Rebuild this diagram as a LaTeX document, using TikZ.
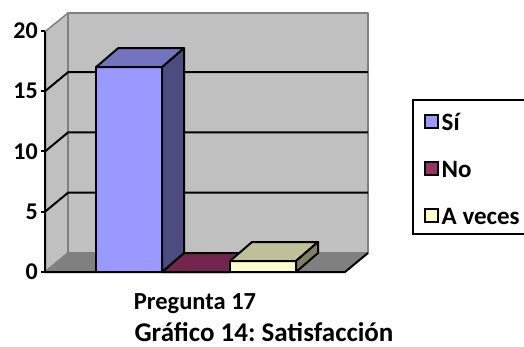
\documentclass[tikz,border=0pt]{standalone}
\usepackage{fontspec}
\setmainfont{Carlito}
\usetikzlibrary{positioning}
\frenchspacing

\definecolor{wallgray}{HTML}{C0C0C0}
\definecolor{floorgray}{HTML}{808080}
\definecolor{sifront}{HTML}{9999FF}
\definecolor{sitop}{HTML}{7373BF}
\definecolor{siside}{HTML}{4C4C80}
\definecolor{nofront}{HTML}{993366}
\definecolor{notop}{HTML}{73264D}
\definecolor{avfront}{HTML}{FFFFCC}
\definecolor{avtop}{HTML}{BFBF99}
\definecolor{avside}{HTML}{808066}

\begin{document}
\begin{tikzpicture}[x=1pt,y=-1pt,
	wall/.style={fill=wallgray,draw=floorgray,line width=1.5pt,line join=round},
	gridline/.style={line width=2pt},
	face/.style={draw=black,line width=2pt,line join=round},
	lbl/.style={font=\bfseries\fontsize{25}{30}\selectfont,inner sep=0pt},
	ticklbl/.style={font=\bfseries\fontsize{24}{28}\selectfont,inner sep=0pt},
	swatch/.style={draw=black,line width=2pt,minimum size=13pt,inner sep=0pt}]
	\useasboundingbox (0,0) rectangle (524,347);
	% walls and floor
	\draw[wall] (45,272) -- (45,31.7) -- (68,13) -- (68,253) -- cycle;
	\draw[wall] (68,13) rectangle (368,253);
	\fill[floorgray] (45,272) -- (68,253) -- (368,253) -- (345,272) -- cycle;
	\draw[floorgray,line width=1.5pt] (45,272) -- (68,253);
	\foreach \v in {5,10,15}
		\draw[gridline] (45,{272-12.05*\v}) -- ++(23,-19) -- ++(300,0);
	% axis
	\draw[gridline] (45,31.7) -- (45,272) -- (345,272) -- (368,253);
	\foreach \v in {0,5,...,20}{
		\draw[gridline] (41,{272-12.05*\v}) -- (45,{272-12.05*\v});
		\draw node (t\v)[ticklbl,anchor=east] at (38,{272-12.05*\v}) {\v};
	}
	% No (0)
	\draw[face,fill=notop] (162,272) -- (184,253) -- (252,253) -- (230,272) -- cycle;
	% A veces (1)
	\draw[face,fill=avfront] (230,272) rectangle (296,261);
	\draw[face,fill=avtop] (230,261) -- (252,242) -- (318,242) -- (296,261) -- cycle;
	\draw[face,fill=avside] (296,261) -- (318,242) -- (318,253) -- (296,272) -- cycle;
	% Si (17)
	\draw[face,fill=sifront] (96,272) rectangle (162,67.2);
	\draw[face,fill=sitop] (96,67.2) -- (118,48.2) -- (184,48.2) -- (162,67.2) -- cycle;
	\draw[face,fill=siside] (162,67.2) -- (184,48.2) -- (184,253) -- (162,272) -- cycle;
	% legend
	\draw[line width=2pt] (413.3,100) rectangle (530,234);
	\draw node (s1)[swatch,fill=sifront] at (431,122) {};
	\draw node (s2)[swatch,fill=nofront,below=32pt of s1] {};
	\draw node (s3)[swatch,fill=avfront,below=32pt of s2] {};
	\draw node (l1)[lbl,right=3pt of s1] {Sí};
	\draw node (l2)[lbl,right=3pt of s2] {No};
	\draw node (l3)[lbl,right=3pt of s3] {A veces};
	% titles
	\draw node (xlab)[lbl,font=\bfseries\fontsize{24.5}{28}\selectfont,anchor=base] at (195,309) {Pregunta 17};
	\draw node (cap)[lbl,font=\bfseries\fontsize{27}{30}\selectfont,anchor=base] at (264,341) {Gráfico 14: Satisfacción};
\end{tikzpicture}
\end{document}
